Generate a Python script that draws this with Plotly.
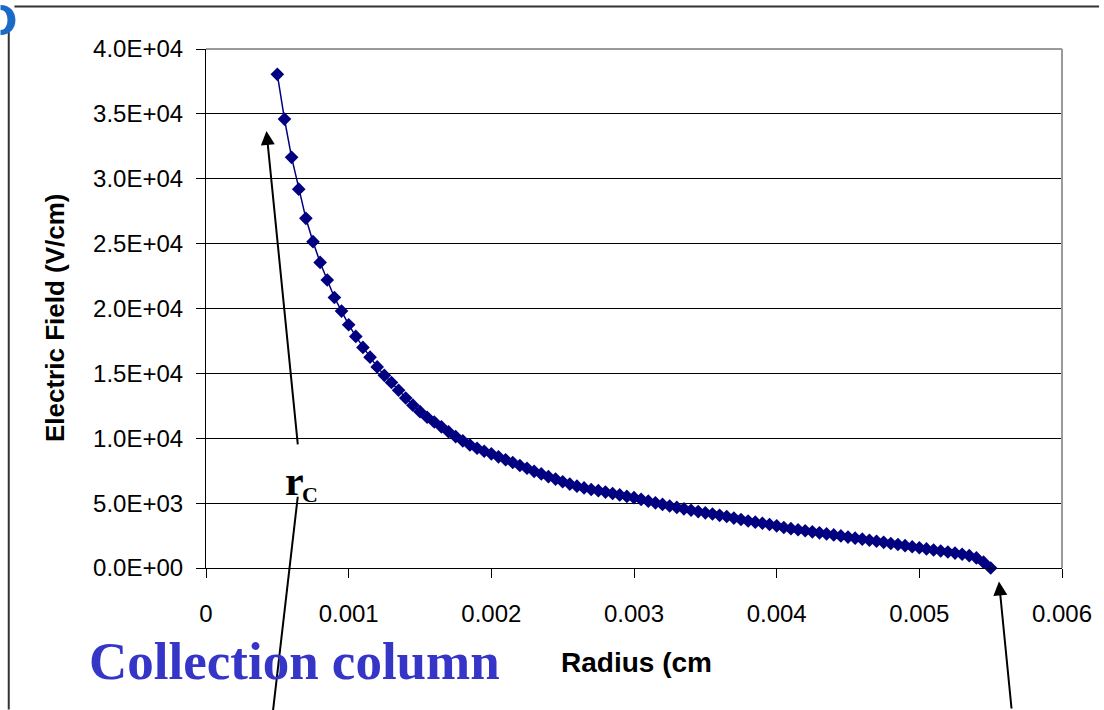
import plotly.graph_objects as go

# ---- data ----
radius_cm = [round(0.0005 + 0.00005 * i, 6) for i in range(101)]
efield_v_cm = [
    38050, 34600, 31650, 29200, 26950, 25150, 23550, 22200, 20850, 19800,
    18750, 17850, 17000, 16250, 15500, 14850, 14300, 13700, 13100, 12550,
    12050, 11620, 11250, 10880, 10500, 10130, 9800, 9480, 9230, 9000,
    8800, 8570, 8340, 8130, 7900, 7690, 7450, 7250, 7040, 6850,
    6650, 6470, 6310, 6170, 6050, 5960, 5850, 5740, 5630, 5520,
    5420, 5290, 5150, 5020, 4900, 4780, 4670, 4560, 4450, 4350,
    4250, 4160, 4060, 3970, 3850, 3740, 3620, 3530, 3450, 3350,
    3250, 3120, 3030, 2950, 2870, 2790, 2710, 2630, 2550, 2470,
    2380, 2300, 2220, 2140, 2060, 1980, 1890, 1810, 1720, 1640,
    1560, 1470, 1390, 1310, 1230, 1150, 1060, 950, 780, 450,
    0,
]
x_tickvals = [0, 0.001, 0.002, 0.003, 0.004, 0.005, 0.006]
x_ticktext = ["0", "0.001", "0.002", "0.003", "0.004", "0.005", "0.006"]
y_tickvals = [0, 5000, 10000, 15000, 20000, 25000, 30000, 35000, 40000]
y_ticktext = ["0.0E+00", "5.0E+03", "1.0E+04", "1.5E+04", "2.0E+04",
              "2.5E+04", "3.0E+04", "3.5E+04", "4.0E+04"]

W, H = 1104, 710
L, R, T, B = 205.7, 1066.7, 49.0, 568.3


def px(xp):
    return (xp - L) / (R - L)


def py(yp):
    return (B - yp) / (B - T)


fig = go.Figure()
fig.add_trace(go.Scatter(
    x=radius_cm, y=efield_v_cm, mode="lines+markers",
    line=dict(color="#000080", width=1.5),
    marker=dict(symbol="diamond", size=10.5, color="#000080"),
    showlegend=False, cliponaxis=False,
))

tick_font = dict(family="Liberation Sans, Arial, sans-serif", size=24, color="black")
fig.update_layout(
    width=W, height=H,
    margin=dict(l=L, r=W - R, t=T, b=H - B, pad=0),
    paper_bgcolor="white", plot_bgcolor="white",
    xaxis=dict(range=[0, 0.006], tickvals=x_tickvals, ticktext=x_ticktext,
               showgrid=False, zeroline=False, showline=True, linecolor="black",
               linewidth=1, ticks="outside", ticklen=9, tickcolor="black",
               tickfont=tick_font, ticklabelstandoff=15),
    yaxis=dict(range=[0, 40000], tickvals=y_tickvals, ticktext=y_ticktext,
               showgrid=True, gridcolor="black", gridwidth=1, zeroline=False,
               showline=True, linecolor="black", linewidth=1, ticks="outside",
               ticklen=9, tickcolor="black", tickfont=tick_font,
               ticklabelstandoff=8),
)


def pth(points):
    # points: list of (cmd, [(x_px, y_px), ...]) -> paper-coordinate SVG path
    parts = []
    for cmd, pts in points:
        coords = " ".join(f"{px(a):.5f},{py(b):.5f}" for a, b in pts)
        parts.append(f"{cmd} {coords}".strip())
    return " ".join(parts)


glyph_path = pth([
    ("M", [(-1, 5)]),
    ("C", [(9, 5), (14, 12), (14, 20)]),
    ("C", [(14, 28), (9, 35), (-1, 35)]),
    ("L", [(-1, 30)]),
    ("C", [(4, 30), (6, 25), (6, 20)]),
    ("C", [(6, 15), (4, 10), (-1, 10)]),
    ("Z", []),
])

shapes = [
    # grey top/right plot border
    dict(type="line", xref="paper", yref="paper", x0=0, x1=1, y0=1, y1=1,
         line=dict(color="#9a9a9a", width=2), layer="above"),
    dict(type="line", xref="paper", yref="paper", x0=1, x1=1, y0=0, y1=1,
         line=dict(color="#9a9a9a", width=2), layer="above"),
    # slide frame
    dict(type="line", xref="paper", yref="paper", x0=px(13), x1=px(W), y0=py(6.5), y1=py(6.5),
         line=dict(color="#333333", width=2)),
    dict(type="line", xref="paper", yref="paper", x0=px(7.3), x1=px(7.3), y0=py(32), y1=py(H),
         line=dict(color="#333333", width=2)),
    # pointer line without head
    dict(type="line", xref="paper", yref="paper", x0=px(298), x1=px(273), y0=py(497), y1=py(712),
         line=dict(color="black", width=2)),
    # partial blue slide glyph at the top-left corner
    dict(type="path", xref="paper", yref="paper", path=glyph_path,
         fillcolor="#1a6ac8", line=dict(width=0)),
]
fig.update_layout(shapes=shapes)

annotations = [
    dict(text="<b>Electric Field (V/cm)</b>", xref="paper", yref="paper",
         x=px(54), y=py(318), textangle=-90, showarrow=False,
         xanchor="center", yanchor="middle",
         font=dict(family="Liberation Sans, Arial, sans-serif", size=26, color="black")),
    dict(text="<b>Radius (cm</b>", xref="paper", yref="paper",
         x=px(561), y=py(663), showarrow=False, xanchor="left", yanchor="middle",
         font=dict(family="Liberation Sans, Arial, sans-serif", size=28, color="black")),
    dict(text="<b>Collection column</b>", xref="paper", yref="paper",
         x=px(86), y=py(661), showarrow=False, xanchor="left", yanchor="middle",
         font=dict(family="Liberation Serif, Times New Roman, serif", size=53, color="#3535C8")),
    dict(text="<b>r</b>", xref="paper", yref="paper",
         x=px(283), y=py(481), showarrow=False, xanchor="left", yanchor="middle",
         font=dict(family="Liberation Serif, Times New Roman, serif", size=42, color="black")),
    dict(text="<b>C</b>", xref="paper", yref="paper",
         x=px(300), y=py(495), showarrow=False, xanchor="left", yanchor="middle",
         font=dict(family="Liberation Serif, Times New Roman, serif", size=22, color="black")),
    # arrows
    dict(text="", xref="paper", yref="paper", x=px(266.5), y=py(131),
         ax=298 - 266.5, ay=446 - 131, axref="pixel", ayref="pixel",
         showarrow=True, arrowhead=2, arrowsize=1.4, arrowwidth=2, arrowcolor="black"),
    dict(text="", xref="paper", yref="paper", x=px(1003.3), y=py(581.7),
         ax=1016 - 1003.3, ay=712 - 581.7, axref="pixel", ayref="pixel",
         showarrow=True, arrowhead=2, arrowsize=1.4, arrowwidth=2, arrowcolor="black"),
]
fig.update_layout(annotations=annotations)

fig.write_html("out.html")
